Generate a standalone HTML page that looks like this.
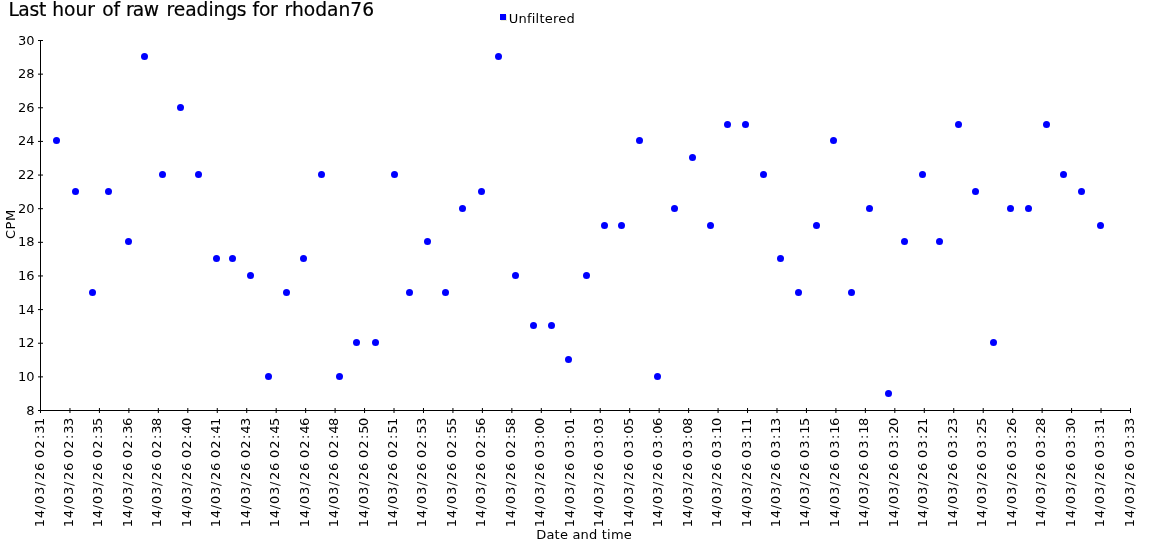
<!DOCTYPE html>
<html><head><meta charset="utf-8"><title>Last hour of raw readings for rhodan76</title>
<style>
html,body{margin:0;padding:0;background:#fff;}
body{width:1150px;height:560px;overflow:hidden;}
svg{display:block;font-family:"DejaVu Sans","Liberation Sans",sans-serif;}
</style></head><body>
<svg width="1150" height="560" viewBox="0 0 1150 560">
<rect x="0" y="0" width="1150" height="560" fill="#ffffff"/>
<text x="8.6" y="16" dx="0 -0.7 -0.3 -0.3 0 0 0 0 0 0 1.3 0 0 0 -1.0 -0.5 0 1.5 0 0 0 0 0 0 -0.5 0 0 0 -0.5 0 1.0 0 0 0 0 0 0 0" font-size="18.67" fill="#000" stroke="#000" stroke-width="0.2">Last hour of raw readings for rhodan76</text>
<rect x="501" y="15" width="6" height="6" fill="#eaead8"/>
<rect x="500" y="14" width="6" height="6" fill="#0000ff"/>
<text x="508.8" y="22.5" font-size="13" letter-spacing="0.22" fill="#000">Unfiltered</text>

<g fill="#000">
<rect x="40" y="40" width="1" height="371"/>
<rect x="40" y="410" width="1091" height="1"/>
<rect x="40.00" y="408" width="1" height="5"/>
<rect x="69.46" y="408" width="1" height="5"/>
<rect x="98.92" y="408" width="1" height="5"/>
<rect x="128.38" y="408" width="1" height="5"/>
<rect x="157.84" y="408" width="1" height="5"/>
<rect x="187.30" y="408" width="1" height="5"/>
<rect x="216.76" y="408" width="1" height="5"/>
<rect x="246.22" y="408" width="1" height="5"/>
<rect x="275.68" y="408" width="1" height="5"/>
<rect x="305.14" y="408" width="1" height="5"/>
<rect x="334.59" y="408" width="1" height="5"/>
<rect x="364.05" y="408" width="1" height="5"/>
<rect x="393.51" y="408" width="1" height="5"/>
<rect x="422.97" y="408" width="1" height="5"/>
<rect x="452.43" y="408" width="1" height="5"/>
<rect x="481.89" y="408" width="1" height="5"/>
<rect x="511.35" y="408" width="1" height="5"/>
<rect x="540.81" y="408" width="1" height="5"/>
<rect x="570.27" y="408" width="1" height="5"/>
<rect x="599.73" y="408" width="1" height="5"/>
<rect x="629.19" y="408" width="1" height="5"/>
<rect x="658.65" y="408" width="1" height="5"/>
<rect x="688.11" y="408" width="1" height="5"/>
<rect x="717.57" y="408" width="1" height="5"/>
<rect x="747.03" y="408" width="1" height="5"/>
<rect x="776.49" y="408" width="1" height="5"/>
<rect x="805.95" y="408" width="1" height="5"/>
<rect x="835.41" y="408" width="1" height="5"/>
<rect x="864.86" y="408" width="1" height="5"/>
<rect x="894.32" y="408" width="1" height="5"/>
<rect x="923.78" y="408" width="1" height="5"/>
<rect x="953.24" y="408" width="1" height="5"/>
<rect x="982.70" y="408" width="1" height="5"/>
<rect x="1012.16" y="408" width="1" height="5"/>
<rect x="1041.62" y="408" width="1" height="5"/>
<rect x="1071.08" y="408" width="1" height="5"/>
<rect x="1100.54" y="408" width="1" height="5"/>
<rect x="1130.00" y="408" width="1" height="5"/>
<rect x="38" y="410.00" width="5" height="1"/>
<rect x="38" y="376.36" width="5" height="1"/>
<rect x="38" y="342.73" width="5" height="1"/>
<rect x="38" y="309.09" width="5" height="1"/>
<rect x="38" y="275.45" width="5" height="1"/>
<rect x="38" y="241.82" width="5" height="1"/>
<rect x="38" y="208.18" width="5" height="1"/>
<rect x="38" y="174.55" width="5" height="1"/>
<rect x="38" y="140.91" width="5" height="1"/>
<rect x="38" y="107.27" width="5" height="1"/>
<rect x="38" y="73.64" width="5" height="1"/>
<rect x="38" y="40.00" width="5" height="1"/>
</g>
<g font-size="13" fill="#000" text-anchor="end">
<text x="34.6" y="414.55">8</text>
<text x="34.6" y="380.91">10</text>
<text x="34.6" y="347.28">12</text>
<text x="34.6" y="313.64">14</text>
<text x="34.6" y="280.00">16</text>
<text x="34.6" y="246.37">18</text>
<text x="34.6" y="212.73">20</text>
<text x="34.6" y="179.10">22</text>
<text x="34.6" y="145.46">24</text>
<text x="34.6" y="111.82">26</text>
<text x="34.6" y="78.19">28</text>
<text x="34.6" y="44.55">30</text>
</g>
<g font-size="13" fill="#000" text-anchor="end" letter-spacing="0.735">
<text transform="translate(43.50 416.9) rotate(-90)" dx="0 0 0 0.2 0 0 0.8 0 0 -1 0.3 0.7 0.2 -1.2">14/03/26 02:31</text>
<text transform="translate(72.96 416.9) rotate(-90)" dx="0 0 0 0.2 0 0 0.8 0 0 -1 0.3 0.7 0.2 -1.2">14/03/26 02:33</text>
<text transform="translate(102.42 416.9) rotate(-90)" dx="0 0 0 0.2 0 0 0.8 0 0 -1 0.3 0.7 0.2 -1.2">14/03/26 02:35</text>
<text transform="translate(131.88 416.9) rotate(-90)" dx="0 0 0 0.2 0 0 0.8 0 0 -1 0.3 0.7 0.2 -1.2">14/03/26 02:36</text>
<text transform="translate(161.34 416.9) rotate(-90)" dx="0 0 0 0.2 0 0 0.8 0 0 -1 0.3 0.7 0.2 -1.2">14/03/26 02:38</text>
<text transform="translate(190.80 416.9) rotate(-90)" dx="0 0 0 0.2 0 0 0.8 0 0 -1 0.3 0.7 0.2 -1.2">14/03/26 02:40</text>
<text transform="translate(220.26 416.9) rotate(-90)" dx="0 0 0 0.2 0 0 0.8 0 0 -1 0.3 0.7 0.2 -1.2">14/03/26 02:41</text>
<text transform="translate(249.72 416.9) rotate(-90)" dx="0 0 0 0.2 0 0 0.8 0 0 -1 0.3 0.7 0.2 -1.2">14/03/26 02:43</text>
<text transform="translate(279.18 416.9) rotate(-90)" dx="0 0 0 0.2 0 0 0.8 0 0 -1 0.3 0.7 0.2 -1.2">14/03/26 02:45</text>
<text transform="translate(308.64 416.9) rotate(-90)" dx="0 0 0 0.2 0 0 0.8 0 0 -1 0.3 0.7 0.2 -1.2">14/03/26 02:46</text>
<text transform="translate(338.09 416.9) rotate(-90)" dx="0 0 0 0.2 0 0 0.8 0 0 -1 0.3 0.7 0.2 -1.2">14/03/26 02:48</text>
<text transform="translate(367.55 416.9) rotate(-90)" dx="0 0 0 0.2 0 0 0.8 0 0 -1 0.3 0.7 0.2 -1.2">14/03/26 02:50</text>
<text transform="translate(397.01 416.9) rotate(-90)" dx="0 0 0 0.2 0 0 0.8 0 0 -1 0.3 0.7 0.2 -1.2">14/03/26 02:51</text>
<text transform="translate(426.47 416.9) rotate(-90)" dx="0 0 0 0.2 0 0 0.8 0 0 -1 0.3 0.7 0.2 -1.2">14/03/26 02:53</text>
<text transform="translate(455.93 416.9) rotate(-90)" dx="0 0 0 0.2 0 0 0.8 0 0 -1 0.3 0.7 0.2 -1.2">14/03/26 02:55</text>
<text transform="translate(485.39 416.9) rotate(-90)" dx="0 0 0 0.2 0 0 0.8 0 0 -1 0.3 0.7 0.2 -1.2">14/03/26 02:56</text>
<text transform="translate(514.85 416.9) rotate(-90)" dx="0 0 0 0.2 0 0 0.8 0 0 -1 0.3 0.7 0.2 -1.2">14/03/26 02:58</text>
<text transform="translate(544.31 416.9) rotate(-90)" dx="0 0 0 0.2 0 0 0.8 0 0 -1 0.3 0.7 0.2 -1.2">14/03/26 03:00</text>
<text transform="translate(573.77 416.9) rotate(-90)" dx="0 0 0 0.2 0 0 0.8 0 0 -1 0.3 0.7 0.2 -1.2">14/03/26 03:01</text>
<text transform="translate(603.23 416.9) rotate(-90)" dx="0 0 0 0.2 0 0 0.8 0 0 -1 0.3 0.7 0.2 -1.2">14/03/26 03:03</text>
<text transform="translate(632.69 416.9) rotate(-90)" dx="0 0 0 0.2 0 0 0.8 0 0 -1 0.3 0.7 0.2 -1.2">14/03/26 03:05</text>
<text transform="translate(662.15 416.9) rotate(-90)" dx="0 0 0 0.2 0 0 0.8 0 0 -1 0.3 0.7 0.2 -1.2">14/03/26 03:06</text>
<text transform="translate(691.61 416.9) rotate(-90)" dx="0 0 0 0.2 0 0 0.8 0 0 -1 0.3 0.7 0.2 -1.2">14/03/26 03:08</text>
<text transform="translate(721.07 416.9) rotate(-90)" dx="0 0 0 0.2 0 0 0.8 0 0 -1 0.3 0.7 0.2 -1.2">14/03/26 03:10</text>
<text transform="translate(750.53 416.9) rotate(-90)" dx="0 0 0 0.2 0 0 0.8 0 0 -1 0.3 0.7 0.2 -1.2">14/03/26 03:11</text>
<text transform="translate(779.99 416.9) rotate(-90)" dx="0 0 0 0.2 0 0 0.8 0 0 -1 0.3 0.7 0.2 -1.2">14/03/26 03:13</text>
<text transform="translate(809.45 416.9) rotate(-90)" dx="0 0 0 0.2 0 0 0.8 0 0 -1 0.3 0.7 0.2 -1.2">14/03/26 03:15</text>
<text transform="translate(838.91 416.9) rotate(-90)" dx="0 0 0 0.2 0 0 0.8 0 0 -1 0.3 0.7 0.2 -1.2">14/03/26 03:16</text>
<text transform="translate(868.36 416.9) rotate(-90)" dx="0 0 0 0.2 0 0 0.8 0 0 -1 0.3 0.7 0.2 -1.2">14/03/26 03:18</text>
<text transform="translate(897.82 416.9) rotate(-90)" dx="0 0 0 0.2 0 0 0.8 0 0 -1 0.3 0.7 0.2 -1.2">14/03/26 03:20</text>
<text transform="translate(927.28 416.9) rotate(-90)" dx="0 0 0 0.2 0 0 0.8 0 0 -1 0.3 0.7 0.2 -1.2">14/03/26 03:21</text>
<text transform="translate(956.74 416.9) rotate(-90)" dx="0 0 0 0.2 0 0 0.8 0 0 -1 0.3 0.7 0.2 -1.2">14/03/26 03:23</text>
<text transform="translate(986.20 416.9) rotate(-90)" dx="0 0 0 0.2 0 0 0.8 0 0 -1 0.3 0.7 0.2 -1.2">14/03/26 03:25</text>
<text transform="translate(1015.66 416.9) rotate(-90)" dx="0 0 0 0.2 0 0 0.8 0 0 -1 0.3 0.7 0.2 -1.2">14/03/26 03:26</text>
<text transform="translate(1045.12 416.9) rotate(-90)" dx="0 0 0 0.2 0 0 0.8 0 0 -1 0.3 0.7 0.2 -1.2">14/03/26 03:28</text>
<text transform="translate(1074.58 416.9) rotate(-90)" dx="0 0 0 0.2 0 0 0.8 0 0 -1 0.3 0.7 0.2 -1.2">14/03/26 03:30</text>
<text transform="translate(1104.04 416.9) rotate(-90)" dx="0 0 0 0.2 0 0 0.8 0 0 -1 0.3 0.7 0.2 -1.2">14/03/26 03:31</text>
<text transform="translate(1133.50 416.9) rotate(-90)" dx="0 0 0 0.2 0 0 0.8 0 0 -1 0.3 0.7 0.2 -1.2">14/03/26 03:33</text>
</g>
<text transform="translate(15 224.2) rotate(-90)" font-size="13" letter-spacing="0.53" text-anchor="middle" fill="#000">CPM</text>
<text x="584.1" y="539" font-size="13" letter-spacing="0.2" text-anchor="middle" fill="#000">Date and time</text>
<g fill="#0000ff">
<circle cx="56.5" cy="140.5" r="3.5"/>
<circle cx="75.5" cy="191.5" r="3.5"/>
<circle cx="92.5" cy="292.5" r="3.5"/>
<circle cx="108.5" cy="191.5" r="3.5"/>
<circle cx="128.5" cy="241.5" r="3.5"/>
<circle cx="144.5" cy="56.5" r="3.5"/>
<circle cx="162.5" cy="174.5" r="3.5"/>
<circle cx="180.5" cy="107.5" r="3.5"/>
<circle cx="198.5" cy="174.5" r="3.5"/>
<circle cx="216.5" cy="258.5" r="3.5"/>
<circle cx="232.5" cy="258.5" r="3.5"/>
<circle cx="250.5" cy="275.5" r="3.5"/>
<circle cx="268.5" cy="376.5" r="3.5"/>
<circle cx="286.5" cy="292.5" r="3.5"/>
<circle cx="303.5" cy="258.5" r="3.5"/>
<circle cx="321.5" cy="174.5" r="3.5"/>
<circle cx="339.5" cy="376.5" r="3.5"/>
<circle cx="356.5" cy="342.5" r="3.5"/>
<circle cx="375.5" cy="342.5" r="3.5"/>
<circle cx="394.5" cy="174.5" r="3.5"/>
<circle cx="409.5" cy="292.5" r="3.5"/>
<circle cx="427.5" cy="241.5" r="3.5"/>
<circle cx="445.5" cy="292.5" r="3.5"/>
<circle cx="462.5" cy="208.5" r="3.5"/>
<circle cx="481.5" cy="191.5" r="3.5"/>
<circle cx="498.5" cy="56.5" r="3.5"/>
<circle cx="515.5" cy="275.5" r="3.5"/>
<circle cx="533.5" cy="325.5" r="3.5"/>
<circle cx="551.5" cy="325.5" r="3.5"/>
<circle cx="568.5" cy="359.5" r="3.5"/>
<circle cx="586.5" cy="275.5" r="3.5"/>
<circle cx="604.5" cy="225.5" r="3.5"/>
<circle cx="621.5" cy="225.5" r="3.5"/>
<circle cx="639.5" cy="140.5" r="3.5"/>
<circle cx="657.5" cy="376.5" r="3.5"/>
<circle cx="674.5" cy="208.5" r="3.5"/>
<circle cx="692.5" cy="157.5" r="3.5"/>
<circle cx="710.5" cy="225.5" r="3.5"/>
<circle cx="727.5" cy="124.5" r="3.5"/>
<circle cx="745.5" cy="124.5" r="3.5"/>
<circle cx="763.5" cy="174.5" r="3.5"/>
<circle cx="780.5" cy="258.5" r="3.5"/>
<circle cx="798.5" cy="292.5" r="3.5"/>
<circle cx="816.5" cy="225.5" r="3.5"/>
<circle cx="833.5" cy="140.5" r="3.5"/>
<circle cx="851.5" cy="292.5" r="3.5"/>
<circle cx="869.5" cy="208.5" r="3.5"/>
<circle cx="888.5" cy="393.5" r="3.5"/>
<circle cx="904.5" cy="241.5" r="3.5"/>
<circle cx="922.5" cy="174.5" r="3.5"/>
<circle cx="939.5" cy="241.5" r="3.5"/>
<circle cx="958.5" cy="124.5" r="3.5"/>
<circle cx="975.5" cy="191.5" r="3.5"/>
<circle cx="993.5" cy="342.5" r="3.5"/>
<circle cx="1010.5" cy="208.5" r="3.5"/>
<circle cx="1028.5" cy="208.5" r="3.5"/>
<circle cx="1046.5" cy="124.5" r="3.5"/>
<circle cx="1063.5" cy="174.5" r="3.5"/>
<circle cx="1081.5" cy="191.5" r="3.5"/>
<circle cx="1100.5" cy="225.5" r="3.5"/>
</g>
</svg></body></html>
